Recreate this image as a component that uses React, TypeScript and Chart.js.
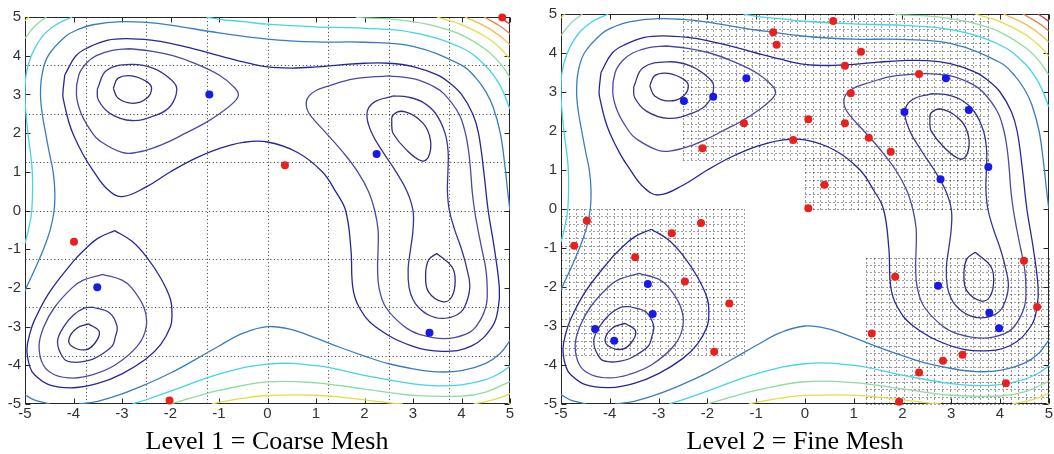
import React, { useEffect, useRef } from "react";
import { Chart, registerables } from "chart.js";
Chart.register(...registerables);

// ---------- axes / ticks ----------
const tickValues = [-5, -4, -3, -2, -1, 0, 1, 2, 3, 4, 5];
const coarseGrid = [-3.75, -2.5, -1.25, 0, 1.25, 2.5, 3.75];
// refined cells of the fine mesh: [x0, x1, y0, y1]
const fineRegions = [
  [-2.5, 3.75, 1.25, 5],
  [0, 3.75, 0, 1.25],
  [-5, -1.25, -3.75, 0],
  [1.25, 5, -5, -1.25],
];
const fineStepX = 0.15625;
const fineStepY = 0.1875;

// ---------- contour levels ----------
const contourLevels = [5, 20, 60, 100, 200, 300, 400, 500, 600, 700, 800];
const levelColors = ["#2e2e78", "#363690", "#4a4aa2", "#262698", "#3a7cc0", "#44d4e4", "#8edca0", "#e2de48", "#f0c040", "#e08848", "#c84848"];

// level 5 (closed)
const c5_a = [[-3.18, 3.16], [-3.08, 3.42], [-2.8, 3.48], [-2.49, 3.33], [-2.39, 3.16], [-2.49, 2.9], [-2.77, 2.77], [-3.08, 2.9]];
const c5_b = [[2.56, 2.21], [2.59, 2.47], [2.84, 2.55], [3.21, 2.25], [3.36, 1.82], [3.32, 1.39], [3.18, 1.28], [2.87, 1.56], [2.59, 1.99]];
const c5_c = [[-3.69, -2.93], [-3.47, -3.13], [-3.56, -3.43], [-3.76, -3.6], [-4.04, -3.5], [-4.09, -3.3], [-3.93, -3.04]];
const c5_d = [[3.49, -1.11], [3.8, -1.45], [3.87, -1.8], [3.8, -2.23], [3.62, -2.36], [3.32, -2.1], [3.26, -1.67], [3.32, -1.28]];
// level 20 (closed)
const c20_a = [[-3.51, 3.13], [-3.32, 3.62], [-2.81, 3.775], [-2.35, 3.67], [-1.98, 3.37], [-1.87, 3.13], [-2.0, 2.7], [-2.28, 2.47], [-2.8, 2.325], [-3.25, 2.51], [-3.49, 2.86]];
const c20_b = [[-3.6, -2.5], [-3.26, -2.64], [-3.1, -3.0], [-3.14, -3.28], [-3.2, -3.5], [-3.4, -3.7], [-3.6, -3.84], [-3.78, -3.9], [-4.0, -3.92], [-4.19, -3.84], [-4.33, -3.4], [-4.2, -3.0], [-4.0, -2.7], [-3.78, -2.52]];
const c20_c = [[2.6, 2.96], [2.9, 2.93], [3.2, 2.8], [3.47, 2.5], [3.66, 2.0], [3.725, 1.5], [3.72, 1.0], [3.71, 0.5], [3.75, 0], [3.86, -0.5], [4.0, -1.0], [4.11, -1.5], [4.17, -2.0], [4.06, -2.5], [3.9, -2.7], [3.6, -2.79], [3.32, -2.7], [3.11, -2.5], [3.0, -2.3], [2.92, -2.0], [2.9, -1.5], [2.95, -1.0], [3.0, -0.5], [3.0, 0], [2.875, 0.5], [2.65, 1.0], [2.385, 1.5], [2.15, 2.0], [2.05, 2.5], [2.2, 2.8]];
// level 60 (closed)
const c60_a = [[-2.85, 4.18], [-2.4, 4.12], [-1.95, 4.0], [-1.5, 3.8], [-1.0, 3.5], [-0.7, 3.2], [-0.6, 3.0], [-0.69, 2.8], [-0.99, 2.5], [-1.3, 2.25], [-1.69, 2.0], [-2.0, 1.8], [-2.35, 1.62], [-2.7, 1.5], [-3.0, 1.5], [-3.46, 1.8], [-3.61, 2.0], [-3.84, 2.5], [-3.94, 3.0], [-3.89, 3.5], [-3.74, 3.8], [-3.53, 4.0], [-3.2, 4.14]];
const c60_b = [[-3.4, -1.65], [-3.0, -1.8], [-2.8, -2.0], [-2.55, -2.5], [-2.5, -3.0], [-2.68, -3.5], [-3.15, -4.0], [-3.62, -4.25], [-4.0, -4.33], [-4.38, -4.25], [-4.62, -4.0], [-4.71, -3.5], [-4.61, -3.0], [-4.39, -2.5], [-4.03, -2.0], [-3.8, -1.8]];
const c60_c = [[2.5, 3.48], [3.03, 3.4], [3.43, 3.2], [3.65, 3.0], [3.945, 2.5], [4.08, 2.0], [4.15, 1.5], [4.19, 1.0], [4.22, 0.5], [4.27, 0], [4.34, -0.5], [4.42, -1.0], [4.5, -1.5], [4.53, -2.0], [4.5, -2.5], [4.3, -3.0], [4.08, -3.2], [3.65, -3.31], [3.13, -3.2], [2.82, -3.0], [2.44, -2.5], [2.3, -2.0], [2.27, -1.5], [2.28, -1.0], [2.28, -0.5], [2.21, 0], [2.08, 0.5], [1.86, 1.0], [1.56, 1.5], [1.21, 2.0], [0.92, 2.4], [0.82, 2.6], [0.8, 2.8], [0.85, 2.95], [1.0, 3.1], [1.22, 3.2], [1.78, 3.4]];
// level 100 (closed)
const c100_a = [[-4.18, 3.5], [-4.22, 3.0], [-4.2, 2.82], [-4.1, 2.3], [-4.0, 1.95], [-3.8, 1.44], [-3.6, 1.04], [-3.3, 0.55], [-3.0, 0.36], [-2.5, 0.61], [-2.0, 1.0], [-1.5, 1.34], [-1.0, 1.6], [-0.5, 1.76], [0, 1.77], [0.62, 1.5], [1.13, 1.0], [1.4, 0.5], [1.61, 0], [1.72, -1.0], [1.76, -2.0], [1.89, -2.5], [2.22, -3.0], [2.97, -3.5], [3.6, -3.64], [4.21, -3.5], [4.635, -3.0], [4.76, -2.5], [4.78, -2.0], [4.68, -1.0], [4.55, 0], [4.46, 1.0], [4.35, 2.0], [4.23, 2.5], [4.0, 3.0], [3.75, 3.3], [3.5, 3.505], [3.0, 3.72], [2.5, 3.805], [2.0, 3.805], [1.5, 3.765], [1.0, 3.71], [0.5, 3.68], [0, 3.71], [-0.5, 3.84], [-1.0, 4.0], [-1.5, 4.17], [-2.0, 4.32], [-2.4, 4.4], [-2.9, 4.44], [-3.29, 4.4], [-3.68, 4.22], [-3.95, 4.0]];
const c100_b = [[-3.15, -0.52], [-2.8, -0.79], [-2.5, -1.19], [-2.2, -1.75], [-2.0, -2.3], [-1.97, -2.7], [-2.0, -3.0], [-2.2, -3.46], [-2.5, -3.83], [-3.0, -4.22], [-3.5, -4.47], [-4.0, -4.58], [-4.5, -4.505], [-4.8, -4.25], [-4.9, -4.04], [-4.96, -3.6], [-4.9, -3.18], [-4.8, -2.82], [-4.5, -2.12], [-4.0, -1.31], [-3.8, -1.045], [-3.5, -0.72]];
// level 200 (open, edge to edge)
const c200_a = [[-5, -2.09], [-4.975, -2.0], [-4.79, -1.5], [-4.62, -1.0], [-4.48, -0.5], [-4.4, 0], [-4.385, 0.5], [-4.42, 1.0], [-4.5, 1.5], [-4.575, 2.0], [-4.645, 2.5], [-4.68, 3.0], [-4.65, 3.5], [-4.52, 4.0], [-4.16, 4.5], [-3.9, 4.68], [-3.6, 4.8], [-3.0, 4.88], [-2.5, 4.86], [-2.0, 4.79], [-1.0, 4.59], [0, 4.43], [1.0, 4.355], [2.0, 4.347], [3.0, 4.24], [4.0, 3.757], [4.3, 3.42], [4.5, 3.07], [4.65, 2.68], [4.8, 2.0], [4.9, 1.1], [4.95, 0.52], [5, 0]];
const c200_b = [[-3.89, -5], [-3.5, -4.93], [-3.0, -4.74], [-2.5, -4.49], [-2.0, -4.2], [-1.5, -3.86], [-1.0, -3.5], [-0.5, -3.17], [0, -3.0], [0.5, -3.08], [1.0, -3.3], [1.5, -3.54], [2.0, -3.76], [2.5, -3.96], [3.0, -4.09], [3.5, -4.17], [4.0, -4.14], [4.5, -3.95], [4.8, -3.69], [5, -3.36]];
const c200_c = [[-5, -4.76], [-4.8, -4.9], [-4.49, -5]];
// level 300
const c300_a = [[-5, -0.85], [-4.93, -0.5], [-4.86, 0], [-4.85, 1.0], [-4.94, 2.0], [-4.98, 2.5], [-5.0, 3.0], [-4.98, 3.5], [-4.87, 4.0], [-4.64, 4.5], [-4.36, 4.8], [-4.03, 5]];
const c300_b = [[-1.26, 5], [-1.0, 4.94], [-0.5, 4.88], [0, 4.814], [1.0, 4.745], [2.0, 4.708], [3.0, 4.597], [4.0, 4.205], [4.5, 3.735], [4.8, 3.22], [5, 2.62]];
const c300_c = [[5, -4.02], [4.8, -4.2], [4.5, -4.37], [4.0, -4.505], [3.5, -4.53], [3.0, -4.48], [2.0, -4.26], [1.0, -4.01], [0, -3.968], [-1.0, -4.228], [-2.0, -4.67], [-2.5, -4.89], [-2.78, -5]];
// level 400
const c400_a = [[5, -4.42], [4.5, -4.69], [4.0, -4.795], [3.0, -4.776], [2.0, -4.613], [1.0, -4.452], [0, -4.43], [-1.0, -4.65], [-1.5, -4.816], [-2.0, -5]];
const c400_b = [[1.82, 5], [2.0, 4.975], [2.5, 4.95], [3.0, 4.878], [3.5, 4.752], [4.0, 4.537], [4.5, 4.16], [4.8, 3.797], [5, 3.44]];
const c400_c = [[-5, 4.45], [-4.8, 4.76], [-4.56, 5]];
// level 500
const c500_a = [[-1.15, -5], [-1.0, -4.96], [-0.5, -4.85], [0, -4.78], [1.0, -4.774], [2.0, -4.892], [2.5, -4.97], [2.79, -5]];
const c500_b = [[4.25, -5], [4.5, -4.94], [4.8, -4.834], [5, -4.73]];
const c500_c = [[3.49, 5], [4.0, 4.805], [4.5, 4.488], [4.8, 4.193], [5, 3.92]];
const c500_d = [[-5, 4.9], [-4.92, 5]];
// level 600, 700, 800
const c600_a = [[4.07, 5], [4.5, 4.753], [4.8, 4.502], [5, 4.28]];
const c600_b = [[4.955, -5], [5, -4.977]];
const c700_a = [[4.47, 5], [4.8, 4.76], [5, 4.565]];
const c800_a = [[4.78, 5], [4.9, 4.9], [5, 4.81]];

const contourPaths: [number, number[][], boolean][] = [
  [5, c5_a, true], [5, c5_b, true], [5, c5_c, true], [5, c5_d, true],
  [20, c20_a, true], [20, c20_b, true], [20, c20_c, true],
  [60, c60_a, true], [60, c60_b, true], [60, c60_c, true],
  [100, c100_a, true], [100, c100_b, true],
  [200, c200_a, false], [200, c200_b, false], [200, c200_c, false],
  [300, c300_a, false], [300, c300_b, false], [300, c300_c, false],
  [400, c400_a, false], [400, c400_b, false], [400, c400_c, false],
  [500, c500_a, false], [500, c500_b, false], [500, c500_c, false], [500, c500_d, false],
  [600, c600_a, false], [600, c600_b, false],
  [700, c700_a, false], [800, c800_a, false],
];

// ---------- sample points ----------
const coarseRed = [[4.84, 4.99], [0.36, 1.17], [-3.99, -0.81], [-2.02, -4.91]];
const coarseBlue = [[-1.2, 3.0], [2.25, 1.46], [-3.51, -1.98], [3.34, -3.16]];
const fineRed = [
  [-0.65, 4.53], [-0.58, 4.21], [0.58, 4.82], [1.15, 4.03], [0.82, 3.67], [0.94, 2.97],
  [-1.25, 2.2], [0.07, 2.3], [0.82, 2.2], [-2.1, 1.56], [-0.24, 1.77], [1.31, 1.83],
  [1.76, 1.47], [2.34, 3.46], [0.4, 0.62], [0.07, 0.02],
  [-4.47, -0.3], [-2.13, -0.36], [-4.73, -0.94], [-2.73, -0.62], [-3.48, -1.24],
  [-2.46, -1.86], [-1.55, -2.42], [-1.86, -3.66],
  [4.49, -1.33], [1.85, -1.74], [4.76, -2.51], [1.37, -3.19], [3.23, -3.74],
  [2.83, -3.89], [2.34, -4.19], [4.12, -4.47], [1.93, -4.94],
];
const fineBlue = [
  [-1.2, 3.35], [-1.88, 2.88], [-2.48, 2.77], [2.89, 3.35], [2.04, 2.49], [3.36, 2.54],
  [3.76, 1.08], [2.78, 0.76],
  [-3.22, -1.92], [-3.12, -2.69], [-4.3, -3.08], [-3.91, -3.38],
  [2.73, -1.97], [3.78, -2.66], [3.98, -3.06],
];

const TICK_FONT = { family: "'Liberation Sans', Arial, Helvetica, sans-serif", size: 15 };

function axesPlugin(kind: "coarse" | "fine") {
  return {
    id: "matlabAxes",
    beforeDatasetsDraw(chart: any) {
      const { ctx, chartArea: a, scales } = chart;
      const xs = scales.x;
      const ys = scales.y;
      const px = (v: number) => Math.round(xs.getPixelForValue(v)) + 0.5;
      const py = (v: number) => Math.round(ys.getPixelForValue(v)) + 0.5;
      const L = Math.round(a.left) + 0.5;
      const R = Math.round(a.right) - 0.5;
      const T = Math.round(a.top) + 0.5;
      const B = Math.round(a.bottom) - 0.5;
      ctx.save();
      ctx.lineWidth = 1;
      ctx.beginPath();
      if (kind === "coarse") {
        ctx.strokeStyle = "rgba(0,0,0,0.8)";
        ctx.setLineDash([1, 2.6]);
        for (const v of coarseGrid) {
          ctx.moveTo(px(v), T);
          ctx.lineTo(px(v), B);
          ctx.moveTo(L, py(v));
          ctx.lineTo(R, py(v));
        }
      } else {
        ctx.strokeStyle = "rgba(0,0,0,0.78)";
        ctx.setLineDash([1, 3]);
        for (const [x0, x1, y0, y1] of fineRegions) {
          const nx = Math.round((x1 - x0) / fineStepX);
          const ny = Math.round((y1 - y0) / fineStepY);
          for (let i = 0; i <= nx; i++) {
            const x = x0 + i * fineStepX;
            ctx.moveTo(px(x), py(y1));
            ctx.lineTo(px(x), py(y0));
          }
          for (let j = 0; j <= ny; j++) {
            const y = y0 + j * fineStepY;
            ctx.moveTo(px(x0), py(y));
            ctx.lineTo(px(x1), py(y));
          }
        }
      }
      ctx.stroke();
      ctx.setLineDash([]);
      ctx.strokeStyle = "#262626";
      ctx.strokeRect(L, T, R - L, B - T);
      ctx.beginPath();
      const tl = 5;
      for (const v of tickValues) {
        const x = px(v);
        ctx.moveTo(x, B);
        ctx.lineTo(x, B - tl);
        ctx.moveTo(x, T);
        ctx.lineTo(x, T + tl);
        const y = py(v);
        ctx.moveTo(L, y);
        ctx.lineTo(L + tl, y);
        ctx.moveTo(R, y);
        ctx.lineTo(R - tl, y);
      }
      ctx.stroke();
      ctx.restore();
    },
  };
}

type PlotProps = {
  left: number;
  kind: "coarse" | "fine";
  red: number[][];
  blue: number[][];
  padding: { left: number; top: number; right: number; bottom: number };
  yWidth: number;
};

function MeshPlot({ left, kind, red, blue, padding, yWidth }: PlotProps) {
  const ref = useRef<HTMLCanvasElement>(null);
  useEffect(() => {
    const toXY = (p: number[][]) => p.map(([x, y]) => ({ x, y }));
    const datasets: any[] = [
      { data: toXY(red), showLine: false, pointRadius: 4, pointBackgroundColor: "#e8201e", pointBorderWidth: 0, clip: false, order: 0 },
      { data: toXY(blue), showLine: false, pointRadius: 4, pointBackgroundColor: "#1a1ae8", pointBorderWidth: 0, clip: false, order: 0 },
    ];
    for (const [level, path, closed] of contourPaths) {
      const pts = closed ? [...path, path[0]] : path;
      datasets.push({
        data: toXY(pts),
        showLine: true,
        pointRadius: 0,
        borderColor: levelColors[contourLevels.indexOf(level)],
        borderWidth: 1.3,
        tension: 0.4,
        fill: false,
        order: 1,
      });
    }
    const chart = new Chart(ref.current!, {
      type: "scatter",
      data: { datasets },
      plugins: [axesPlugin(kind)],
      options: {
        animation: false,
        responsive: false,
        devicePixelRatio: 1,
        events: [],
        layout: { padding },
        plugins: { legend: { display: false }, tooltip: { enabled: false } },
        scales: {
          x: {
            type: "linear",
            min: -5,
            max: 5,
            afterBuildTicks: (s: any) => { s.ticks = tickValues.map((v) => ({ value: v })); },
            afterFit: (s: any) => { s.height = 50; },
            ticks: { font: TICK_FONT, color: "#333", padding: 1, maxRotation: 0, autoSkip: false },
            grid: { display: false, drawTicks: false },
            border: { display: false },
          },
          y: {
            type: "linear",
            min: -5,
            max: 5,
            afterBuildTicks: (s: any) => { s.ticks = tickValues.map((v) => ({ value: v })); },
            afterFit: (s: any) => { s.width = yWidth; },
            ticks: { font: TICK_FONT, color: "#333", padding: 4, autoSkip: false },
            grid: { display: false, drawTicks: false },
            border: { display: false },
          },
        },
      } as any,
    });
    return () => chart.destroy();
  }, []);
  return (
    <canvas
      ref={ref}
      width={527}
      height={454}
      style={{ position: "absolute", left, top: 0, width: 527, height: 454, display: "block" }}
    />
  );
}

const titleStyle: React.CSSProperties = {
  position: "absolute",
  top: 428,
  width: 300,
  textAlign: "center",
  fontFamily: "'Liberation Serif', 'Times New Roman', serif",
  fontSize: 26,
  lineHeight: "26px",
  color: "#000",
  whiteSpace: "nowrap",
};

export default function App() {
  return (
    <div style={{ position: "absolute", left: 0, top: 0, width: 1054, height: 454, background: "#fff", overflow: "hidden" }}>
      <MeshPlot left={0} kind="coarse" red={coarseRed} blue={coarseBlue} padding={{ left: 0, top: 17, right: 17, bottom: 0 }} yWidth={25} />
      <MeshPlot left={527} kind="fine" red={fineRed} blue={fineBlue} padding={{ left: 0, top: 14, right: 5, bottom: 0 }} yWidth={34} />
      <div style={{ ...titleStyle, left: 117 }}>Level 1 = Coarse Mesh</div>
      <div style={{ ...titleStyle, left: 645 }}>Level 2 = Fine Mesh</div>
    </div>
  );
}
